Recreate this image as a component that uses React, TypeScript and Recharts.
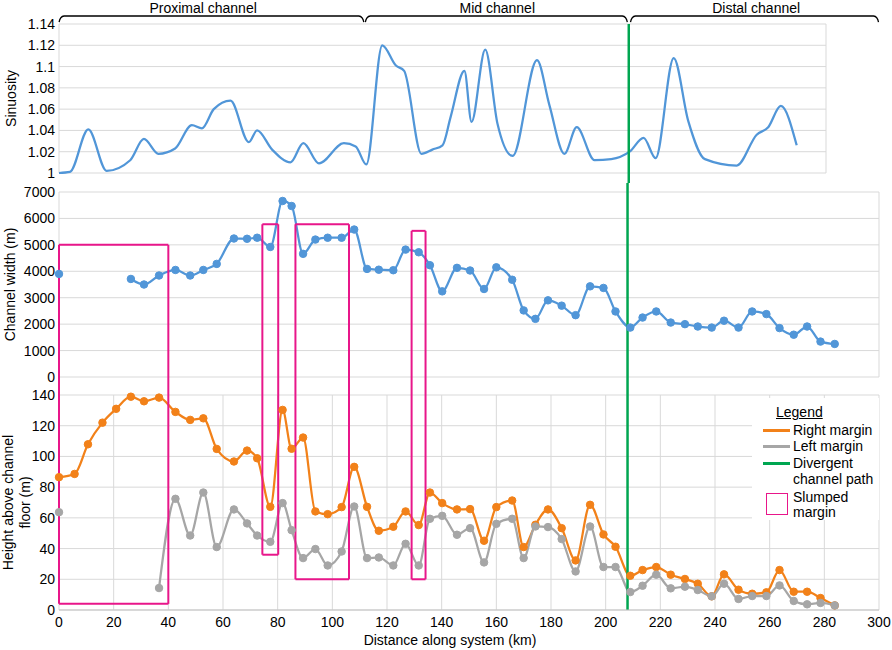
import React from "react";
import {
  LineChart,
  Line,
  XAxis,
  YAxis,
  CartesianGrid,
  ReferenceLine,
  ReferenceDot,
  Legend,
} from "recharts";

const FONT = '"Liberation Sans", Arial, Helvetica, sans-serif';
const BLUE = "#5196d8";
const ORANGE = "#f28119";
const GRAY = "#a6a6a6";
const GREEN = "#00a651";
const PINK = "#e8168a";
const GRID = "#d9d9d9";
const AXIS = "#c4c4c4";

// sinuosity trace along the system
const sinuosityKm = [
  0, 4, 10.7, 17.4, 26, 31, 36.3, 42.4, 48.5, 52.2, 56.5, 62.6, 69.3, 72.3, 77.8, 84.5, 89.2,
  94.9, 104, 108.3, 112.2, 118, 123, 126, 132.3, 136.3, 140, 143, 148, 150.6, 155.6, 160.1,
  165.6, 174.5, 179, 184.5, 189, 195.5, 201.6, 208.3, 213.4, 217.8, 224.4, 229.7, 235.8, 247.4,
  254.7, 258.9, 263.5, 269.3,
];
const sinuosity = [
  1.0, 1.001, 1.041, 1.002, 1.012, 1.032, 1.018, 1.023, 1.045, 1.042, 1.06, 1.068, 1.029, 1.04,
  1.022, 1.01, 1.028, 1.009, 1.028, 1.025, 1.008, 1.12, 1.101, 1.096, 1.018, 1.022, 1.026, 1.053,
  1.096, 1.048, 1.116, 1.046, 1.016, 1.106, 1.064, 1.018, 1.043, 1.012, 1.013, 1.02, 1.033, 1.014,
  1.108, 1.049, 1.013, 1.007, 1.036, 1.043, 1.063, 1.026,
];

// measurement stations (km) shared by width and margin heights
const distanceKm = [
  0, 5.7, 10.6, 15.9, 20.9, 26.3, 31.1, 36.6, 42.6, 48, 52.8, 57.7, 64, 68.8, 72.5, 77.3, 81.8,
  85.1, 89.3, 93.8, 98.3, 103.4, 108, 112.7, 117, 122.3, 126.8, 131.6, 135.7, 140.2, 145.6, 150.4,
  155.5, 160, 165.8, 170, 174.3, 178.9, 183.9, 189, 194.3, 199.2, 203.6, 209, 213.5, 218.5, 223.8,
  229, 233.7, 238.8, 243.3, 248.6, 253.6, 258.8, 263.6, 268.8, 273.7, 278.6, 283.8,
];
const channelWidth = [
  3900, null, null, null, null, 3710, 3500, 3840, 4050, 3840, 4050, 4280, 5240, 5230, 5270, 4920,
  6660, 6470, 4660, 5200, 5270, 5270, 5580, 4090, 4060, 4040, 4820, 4720, 4230, 3240, 4130, 4030,
  3330, 4150, 3680, 2520, 2200, 2900, 2700, 2340, 3430, 3370, 2480, 1870, 2250, 2480, 2060, 2000,
  1910, 1870, 2130, 1870, 2480, 2380, 1850, 1600, 1910, 1340, 1250,
];
const rightMargin = [
  86.5, 88.6, 107.9, 122, 131, 138.9, 135.9, 138.3, 129, 123.8, 124.8, 104.9, 96.7, 103.8, 98.8,
  67.2, 130.3, 105, 112.3, 64.2, 62.4, 67, 93.2, 67.2, 51.6, 54.2, 64.2, 55.3, 76.5, 69.6, 65.5,
  65.7, 45.1, 67, 71.3, 41, 55.5, 65.5, 53.3, 32.3, 68.5, 49.2, 41.2, 22.3, 26, 28, 23, 20.2, 17.1,
  8.9, 23.2, 13.2, 10.6, 11.5, 26, 11.9, 11.9, 7.8, 3,
];
const leftMargin = [
  63.7, null, null, null, null, null, null, 14.3, 72.4, 48.5, 76.5, 41, 65.5, 56.4, 48.5, 44.4,
  69.6, 52, 33.8, 39.7, 29, 38.1, 67.4, 33.8, 34.2, 29, 43.1, 29, 59.4, 61.3, 49, 53.3, 31, 56.1,
  59.4, 33.8, 54.4, 54, 46.2, 25.1, 54.4, 28, 28, 11.7, 15.8, 23, 14.1, 15.2, 13, 8.9, 17.1, 7.2,
  9.1, 9.1, 16, 5.9, 3.7, 4.6, 3,
];

const sinuosityTicks = [1, 1.02, 1.04, 1.06, 1.08, 1.1, 1.12, 1.14];
const widthTicks = [0, 1000, 2000, 3000, 4000, 5000, 6000, 7000];
const heightTicks = [0, 20, 40, 60, 80, 100, 120, 140];
const distanceTicks = [0, 20, 40, 60, 80, 100, 120, 140, 160, 180, 200, 220, 240, 260, 280, 300];
const topDistanceTicks = distanceTicks.slice(0, 15);

const divergenceKm = 208;

const zoneNames = ["Proximal channel", "Mid channel", "Distal channel"];
const zoneStartKm = [0.4, 112.2, 209];
const zoneEndKm = [110.9, 207.1, 298.8];
const zoneLabelKm = [52.6, 160, 254.5];

const slumpStartKm = [0, 74.4, 86.5, 129];
const slumpEndKm = [40, 80.2, 106.1, 134.1];
const slumpTopWidth = [5000, 5780, 5780, 5530];
const slumpBottomHeight = [4, 36, 20, 20];

const sinuosityData = sinuosityKm.map((km, i) => ({ km, value: sinuosity[i] }));
const stationData = distanceKm.map((km, i) => ({
  km,
  width: channelWidth[i],
  right: rightMargin[i],
  left: leftMargin[i],
}));

const tickStyle = { fontSize: 14, fill: "#000" };

const axisTitle = (lines: string[], xs: number[]) => (props: any) => {
  const vb = props.viewBox || { y: 0, height: 0 };
  const cy = vb.y + vb.height / 2;
  return (
    <g>
      {lines.map((t, i) => (
        <text
          key={t}
          x={xs[i]}
          y={cy}
          transform={`rotate(-90, ${xs[i]}, ${cy})`}
          textAnchor="middle"
          dominantBaseline="central"
          fontSize={14}
          fill="#000"
        >
          {t}
        </text>
      ))}
    </g>
  );
};

const xTitle = (props: any) => {
  const vb = props.viewBox || { x: 0, width: 0, y: 0, height: 0 };
  return (
    <text x={vb.x + vb.width / 2 - 19} y={vb.y + vb.height - 5} textAnchor="middle" fontSize={14} fill="#000">
      Distance along system (km)
    </text>
  );
};

const Brace = (props: any) => {
  const { x1, y1, x2 } = props;
  const d = `M${x1 - 1},${y1 + 6} Q${x1},${y1 + 0.5} ${x1 + 4},${y1} L${x2 - 4},${y1} Q${x2},${y1 + 0.5} ${x2 + 1},${y1 + 6}`;
  return <path d={d} fill="none" stroke="#000" strokeWidth={1.3} />;
};

const LegendBox = () => {
  const sample = (top: number, color: string) => (
    <div style={{ position: "absolute", left: 11, top, width: 27, height: 2.5, background: color }} />
  );
  const label = (top: number, text: string) => (
    <div style={{ position: "absolute", left: 41, top, whiteSpace: "nowrap" }}>{text}</div>
  );
  return (
    <div
      style={{
        position: "relative",
        width: 127,
        height: 122,
        background: "#fff",
        fontSize: 14,
        lineHeight: "16px",
        color: "#000",
        fontFamily: FONT,
      }}
    >
      <div style={{ position: "absolute", left: 24, top: 6, textDecoration: "underline" }}>Legend</div>
      {sample(31, ORANGE)}
      {label(24, "Right margin")}
      {sample(47, GRAY)}
      {label(40, "Left margin")}
      {sample(64, GREEN)}
      {label(57, "Divergent")}
      {label(73, "channel path")}
      <div
        style={{
          position: "absolute",
          left: 14,
          top: 95,
          width: 20,
          height: 20,
          border: `1.5px solid ${PINK}`,
        }}
      />
      {label(91, "Slumped")}
      {label(106, "margin")}
    </div>
  );
};

function SinuosityPanel() {
  return (
    <LineChart width={892} height={183} data={sinuosityData} margin={{ top: 24, right: 66, bottom: 10, left: 0 }}>
      <CartesianGrid stroke={GRID} />
      <XAxis
        type="number"
        dataKey="km"
        domain={[0, 280]}
        ticks={topDistanceTicks}
        interval={0}
        tick={false}
        tickLine={false}
        height={0}
        axisLine={{ stroke: AXIS }}
      />
      <YAxis
        domain={[1, 1.14]}
        ticks={sinuosityTicks}
        interval={0}
        width={59}
        axisLine={false}
        tickLine={false}
        tickSize={0}
        tickMargin={4}
        tick={tickStyle}
        label={axisTitle(["Sinuosity"], [11])}
      />
      <Line
        dataKey="value"
        type="monotone"
        stroke={BLUE}
        strokeWidth={2.25}
        dot={false}
        activeDot={false}
        isAnimationActive={false}
      />
      <ReferenceLine
        segment={[{ x: divergenceKm, y: 0.99 }, { x: divergenceKm, y: 1.14 }]}
        stroke={GREEN}
        strokeWidth={2.5}
        ifOverflow="visible"
      />
      {zoneNames.map((name, i) => (
        <ReferenceLine
          key={name}
          segment={[{ x: zoneStartKm[i], y: 1.1475 }, { x: zoneEndKm[i], y: 1.1475 }]}
          shape={Brace}
          ifOverflow="visible"
        />
      ))}
      {zoneNames.map((name, i) => (
        <ReferenceDot
          key={`l-${name}`}
          x={zoneLabelKm[i]}
          y={1.155}
          r={0}
          fill="none"
          stroke="none"
          ifOverflow="visible"
          label={{ value: name, position: "center", fontSize: 14, fill: "#000" }}
        />
      ))}
    </LineChart>
  );
}

function WidthPanel() {
  return (
    <LineChart width={892} height={203} data={stationData} margin={{ top: 9, right: 13, bottom: 9, left: 0 }}>
      <CartesianGrid stroke={GRID} />
      <XAxis
        type="number"
        dataKey="km"
        domain={[0, 300]}
        ticks={distanceTicks}
        interval={0}
        tick={false}
        tickLine={false}
        height={0}
        axisLine={{ stroke: AXIS }}
      />
      <YAxis
        domain={[0, 7000]}
        ticks={widthTicks}
        interval={0}
        width={59}
        axisLine={false}
        tickLine={false}
        tickSize={0}
        tickMargin={4}
        tick={tickStyle}
        label={axisTitle(["Channel width (m)"], [10])}
      />
      <Line
        dataKey="width"
        type="monotone"
        stroke={BLUE}
        strokeWidth={2.25}
        dot={{ r: 3.75, fill: BLUE, stroke: BLUE, strokeWidth: 1 }}
        activeDot={false}
        isAnimationActive={false}
      />
      <ReferenceLine
        segment={[{ x: divergenceKm, y: -345 }, { x: divergenceKm, y: 7345 }]}
        stroke={GREEN}
        strokeWidth={2.5}
        ifOverflow="visible"
      />
      {slumpStartKm.map((start, i) => (
        <React.Fragment key={`s-${i}`}>
          <ReferenceLine
            segment={[{ x: start, y: slumpTopWidth[i] }, { x: start, y: -345 }]}
            stroke={PINK}
            strokeWidth={2}
            ifOverflow="visible"
          />
          <ReferenceLine
            segment={[{ x: slumpEndKm[i], y: slumpTopWidth[i] }, { x: slumpEndKm[i], y: -345 }]}
            stroke={PINK}
            strokeWidth={2}
            ifOverflow="visible"
          />
          <ReferenceLine
            segment={[{ x: start, y: slumpTopWidth[i] }, { x: slumpEndKm[i], y: slumpTopWidth[i] }]}
            stroke={PINK}
            strokeWidth={2}
            ifOverflow="visible"
          />
        </React.Fragment>
      ))}
    </LineChart>
  );
}

function HeightPanel() {
  return (
    <LineChart width={892} height={264} data={stationData} margin={{ top: 9, right: 13, bottom: 0, left: 0 }}>
      <CartesianGrid stroke={GRID} />
      <XAxis
        type="number"
        dataKey="km"
        domain={[0, 300]}
        ticks={distanceTicks}
        interval={0}
        tickLine={false}
        tickSize={0}
        tickMargin={7}
        height={40}
        tick={tickStyle}
        axisLine={{ stroke: AXIS }}
        label={xTitle}
      />
      <YAxis
        domain={[0, 140]}
        ticks={heightTicks}
        interval={0}
        width={59}
        axisLine={false}
        tickLine={false}
        tickSize={0}
        tickMargin={4}
        tick={tickStyle}
        label={axisTitle(["Height above channel", "floor (m)"], [8, 25])}
      />
      <Line
        dataKey="right"
        name="Right margin"
        type="monotone"
        stroke={ORANGE}
        strokeWidth={2.25}
        dot={{ r: 3.75, fill: ORANGE, stroke: ORANGE, strokeWidth: 1 }}
        activeDot={false}
        isAnimationActive={false}
      />
      <Line
        dataKey="left"
        name="Left margin"
        type="monotone"
        stroke={GRAY}
        strokeWidth={2.25}
        dot={{ r: 3.75, fill: GRAY, stroke: GRAY, strokeWidth: 1 }}
        activeDot={false}
        isAnimationActive={false}
      />
      <ReferenceLine
        segment={[{ x: divergenceKm, y: 0 }, { x: divergenceKm, y: 146 }]}
        stroke={GREEN}
        strokeWidth={2.5}
        ifOverflow="visible"
      />
      {slumpStartKm.map((start, i) => (
        <React.Fragment key={`b-${i}`}>
          <ReferenceLine
            segment={[{ x: start, y: 146 }, { x: start, y: slumpBottomHeight[i] }]}
            stroke={PINK}
            strokeWidth={2}
            ifOverflow="visible"
          />
          <ReferenceLine
            segment={[{ x: slumpEndKm[i], y: 146 }, { x: slumpEndKm[i], y: slumpBottomHeight[i] }]}
            stroke={PINK}
            strokeWidth={2}
            ifOverflow="visible"
          />
          <ReferenceLine
            segment={[
              { x: start, y: slumpBottomHeight[i] },
              { x: slumpEndKm[i], y: slumpBottomHeight[i] },
            ]}
            stroke={PINK}
            strokeWidth={2}
            ifOverflow="visible"
          />
        </React.Fragment>
      ))}
      <Legend
        layout="horizontal"
        verticalAlign="middle"
        align="center"
        content={() => <LegendBox />}
        wrapperStyle={{ left: 752, top: 12, width: 127, height: 122 }}
      />
    </LineChart>
  );
}

export default function App() {
  return (
    <div style={{ width: 892, height: 650, background: "#fff", fontFamily: FONT }}>
      <style>{"body{margin:0}"}</style>
      <SinuosityPanel />
      <WidthPanel />
      <HeightPanel />
    </div>
  );
}
